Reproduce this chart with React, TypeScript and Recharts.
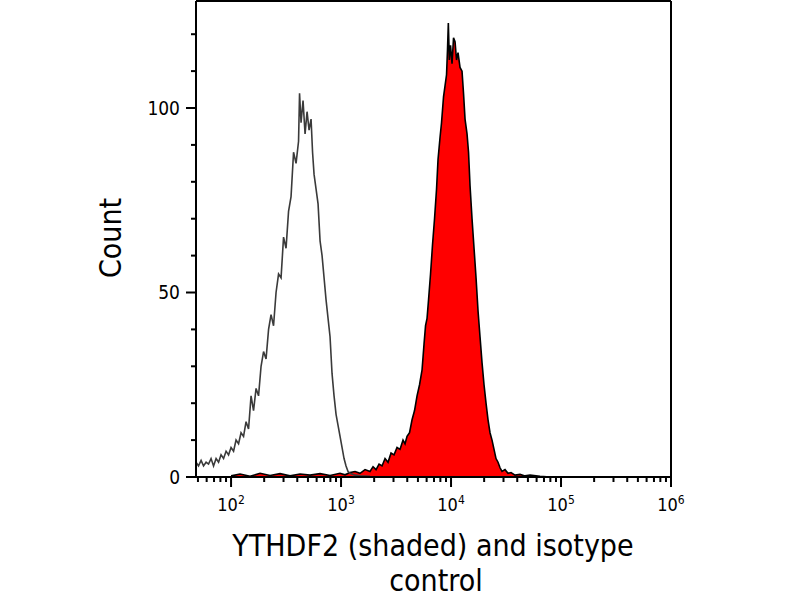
import React from 'react'
import { Area, ComposedChart, Line, ReferenceLine, XAxis, YAxis } from 'recharts'

// isotype control (grey outline), fluorescence intensity vs count
const controlX = [
  48, 50.6, 53.4, 56.2, 59.3, 62.4, 65.8, 69.3, 73.1, 77, 81.1, 85.5, 90.1, 94.9, 100, 105.4, 111, 117, 123.3,
  129.9, 136.9, 144.2, 152, 160.1, 168.8, 177.8, 187.4, 197.5, 208.1, 219.3, 231, 243.4, 256.5, 270.3, 284.8,
  300.1, 316.2, 333.2, 351.1, 370, 389.9, 410.8, 419.5, 432.9, 451.3, 470.8, 490.9, 511.9, 533.8, 550.8, 568.5,
  592.8, 618.1, 644.5, 672.1, 700.8, 730.7, 761.9, 794.3, 828.4, 863.8, 900.7, 939.2, 979.3, 1021, 1065, 1110,
  1158, 1207, 1341, 1488, 1834,
]
const controlCount = [
  4, 3, 4.5, 3, 4, 3.5, 5, 3, 5, 4, 6, 5, 7, 6, 8, 7, 10, 9, 12, 11, 15, 13, 22, 18, 24, 22, 30, 34, 32, 40, 44,
  41, 50, 55, 54, 65, 62, 72, 76, 88, 85, 91, 104, 96, 102, 93, 99, 94, 97, 88, 82, 78, 74, 64, 60, 54, 48, 43,
  38, 28, 22, 17, 14, 11, 8, 5, 3, 1.5, 1, 0.5, 0.3, 0.2,
]

// YTHDF2 stained (red shaded)
const ythdf2X = [
  100, 120.7, 148.8, 183.5, 226.2, 278.9, 343.9, 424, 522.7, 644.5, 794.3, 979.3, 1087, 1207, 1341, 1488, 1653,
  1834, 1954, 2081, 2216, 2359, 2512, 2675, 2848, 3033, 3229, 3439, 3661, 3818, 3981, 4195, 4421, 4659, 4909,
  5173, 5452, 5682, 5865, 6052, 6245, 6511, 6789, 7079, 7381, 7616, 7943, 8195, 8546, 8819, 9101, 9293, 9452,
  9650, 9896, 10212, 10537, 10875, 11220, 11578, 12073, 12589, 12990, 13408, 13981, 14428, 14884, 15522, 16187,
  16881, 17603, 18348, 19133, 19953, 20807, 21698, 22620, 23590, 24600, 25650, 26750, 27890, 29090, 30960,
  32980, 35110, 38180, 42390, 47080, 52270, 64450, 79430,
]
const ythdf2Count = [
  0.3, 0.8, 0.2, 1, 0.4, 0.9, 0.3, 0.8, 0.5, 0.9, 0.4, 1, 0.6, 1.2, 1.5, 1, 2, 1.5, 2.8, 2, 3.5, 3, 5, 4, 6.5, 6,
  8, 7.5, 10, 9, 11, 12, 15.5, 18, 22, 25, 29, 36, 41, 43, 48, 55, 63, 70, 78, 86, 92, 96, 103, 106, 109, 116,
  123, 113, 117, 112, 119, 118, 113, 115, 111, 110, 104, 97, 93, 88, 79, 70, 62, 54, 45, 38, 31, 25, 20, 15.5,
  12, 10, 7.5, 5, 4, 2.5, 1.5, 2, 1, 1.2, 0.5, 0.7, 0.3, 0.5, 0.2, 0,
]

const majorXTicks = [100, 1000, 10000, 100000, 1000000]
const minorXTicks = [50, 60, 70, 80, 90]
const minorMultipliers = [2, 3, 4, 5, 6, 7, 8, 9]
const yTicks = [0, 10, 20, 30, 40, 50, 60, 70, 80, 90, 100, 110, 120]
const yLabels = [0, 50, 100]
const xDomain = [48, 1000000]
const yDomain = [0, 129]

const xLabel1 = 'YTHDF2 (shaded) and isotype'
const xLabel2 = 'control'
const yLabel = 'Count'

const FONT = "'DejaVu Sans Condensed', 'DejaVu Sans', sans-serif"

const xTicks = [...minorXTicks]
for (const m of majorXTicks) {
  xTicks.push(m)
  if (m < 1000000) minorMultipliers.forEach(k => xTicks.push(m * k))
}

type Row = { x: number; control?: number; ythdf2?: number }
const rowMap = new Map<number, Row>()
controlX.forEach((x, i) => {
  const r = rowMap.get(x) ?? { x }
  r.control = controlCount[i]
  rowMap.set(x, r)
})
ythdf2X.forEach((x, i) => {
  const r = rowMap.get(x) ?? { x }
  r.ythdf2 = ythdf2Count[i]
  rowMap.set(x, r)
})
const rows = [...rowMap.values()].sort((a, b) => a.x - b.x)

function renderXTick(props: any) {
  const { x, y, payload } = props
  const v = Number(payload.value)
  const exp = Math.round(Math.log10(v))
  const major = majorXTicks.includes(v)
  return (
    <g>
      <rect x={x - 1} y={y - 1} width={2} height={major ? 11 : 6} fill="#000" />
      {major && (
        <text x={x} y={y + 34} textAnchor="middle" fontSize={18} fontFamily={FONT} fill="#000">
          10
          <tspan dy={-7} fontSize={12}>
            {exp}
          </tspan>
        </text>
      )}
    </g>
  )
}

function renderYTick(props: any) {
  const { x, y, payload } = props
  const v = Number(payload.value)
  const major = yLabels.includes(v)
  return (
    <g>
      <rect x={x - (major ? 10 : 5)} y={y - 1} width={major ? 11 : 6} height={2} fill="#000" />
      {major && (
        <text x={x - 16} y={y} dy="0.36em" textAnchor="end" fontSize={19} fontFamily={FONT} fill="#000">
          {v}
        </text>
      )}
    </g>
  )
}

export default function App() {
  return (
    <div style={{ position: 'absolute', left: 0, top: 0, width: 800, height: 600, background: '#fff' }}>
      <ComposedChart width={800} height={600} data={rows} margin={{ top: 1, right: 129, bottom: 122, left: 195 }}>
        <XAxis
          dataKey="x"
          type="number"
          scale="log"
          domain={xDomain}
          allowDataOverflow
          ticks={xTicks}
          interval={0}
          height={1}
          tickSize={0}
          tickMargin={0}
          tick={renderXTick}
          axisLine={{ stroke: '#000', strokeWidth: 2 }}
          tickLine={false}
        />
        <YAxis
          type="number"
          domain={yDomain}
          allowDataOverflow
          ticks={yTicks}
          interval={0}
          width={1}
          tickSize={0}
          tickMargin={0}
          tick={renderYTick}
          tickLine={false}
          axisLine={{ stroke: '#000', strokeWidth: 2 }}
        />
        <Area
          type="linear"
          dataKey="ythdf2"
          stroke="#000"
          strokeWidth={1.6}
          fill="#ff0000"
          fillOpacity={1}
          connectNulls
          dot={false}
          activeDot={false}
          isAnimationActive={false}
        />
        <Line
          type="linear"
          dataKey="control"
          stroke="#3a3a3a"
          strokeWidth={1.6}
          connectNulls
          dot={false}
          activeDot={false}
          isAnimationActive={false}
        />
        {/* frame: top and right edges */}
        <ReferenceLine y={yDomain[1]} stroke="#000" strokeWidth={2} />
        <ReferenceLine x={xDomain[1]} stroke="#000" strokeWidth={2} />
      </ComposedChart>
      <svg
        width={800}
        height={600}
        style={{ position: 'absolute', left: 0, top: 0, pointerEvents: 'none' }}
      >
        <text x={110} y={238} transform="rotate(-90 110 238)" textAnchor="middle" dominantBaseline="central" fontSize={30} fontFamily={FONT} fill="#000">
          {yLabel}
        </text>
        <text x={433} y={556} textAnchor="middle" fontSize={30} fontFamily={FONT} fill="#000">
          {xLabel1}
        </text>
        <text x={436} y={591} textAnchor="middle" fontSize={30} fontFamily={FONT} fill="#000">
          {xLabel2}
        </text>
      </svg>
    </div>
  )
}
